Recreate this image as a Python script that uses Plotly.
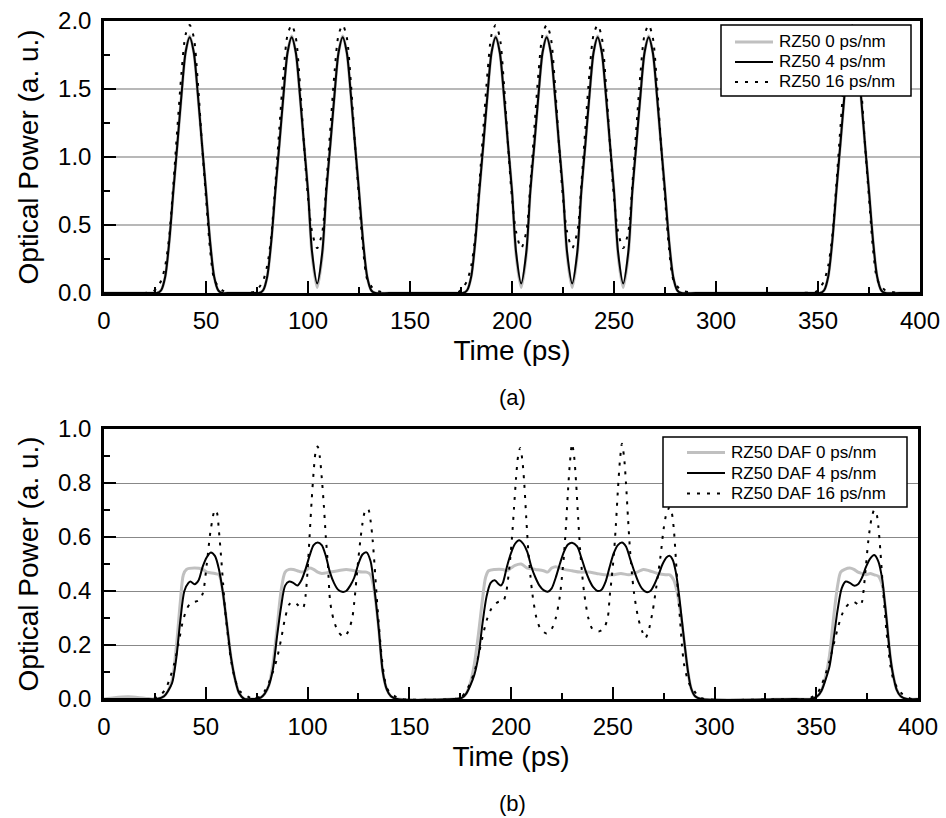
import plotly.graph_objects as go

# ---------------- Panel (a) data : RZ50 ----------------
t_a = [0, 10, 20, 24,
       26, 28, 30, 32, 34, 36, 38, 40, 42, 44, 46, 48, 50, 52, 54, 56, 58,
       62, 70, 74,
       76, 78, 80, 82, 84, 86, 88, 90, 92, 94, 96, 98, 100, 102, 104.5,
       107, 109, 111, 113, 115, 117, 119, 121, 123, 125, 127, 129, 131, 133,
       140, 150, 160, 170, 174,
       176, 178, 180, 182, 184, 186, 188, 190, 192, 194, 196, 198, 200, 202, 204.5,
       207, 209, 211, 213, 215, 217, 219, 221, 223, 225, 227, 229.5,
       232, 234, 236, 238, 240, 242, 244, 246, 248, 250, 252, 254.5,
       257, 259, 261, 263, 265, 267, 269, 271, 273, 275, 277, 279, 281, 283,
       290, 300, 320, 340, 349,
       351, 353, 355, 357, 359, 361, 363, 365, 367, 369, 371, 373, 375, 377, 379, 381, 383,
       390, 400]

rz_0 = [0, 0, 0, 0,
        0.0, 0.02, 0.12, 0.38, 0.75, 1.1, 1.46, 1.77, 1.89, 1.77, 1.46, 1.1, 0.75, 0.38, 0.12, 0.02, 0.0,
        0, 0, 0,
        0.0, 0.02, 0.12, 0.38, 0.75, 1.1, 1.46, 1.77, 1.89, 1.77, 1.46, 1.1, 0.75, 0.28, 0.04,
        0.28, 0.75, 1.1, 1.46, 1.77, 1.89, 1.77, 1.46, 1.1, 0.75, 0.38, 0.12, 0.02, 0.0,
        0, 0, 0, 0, 0,
        0.0, 0.02, 0.12, 0.38, 0.75, 1.1, 1.46, 1.77, 1.89, 1.77, 1.46, 1.1, 0.75, 0.28, 0.04,
        0.28, 0.75, 1.1, 1.46, 1.77, 1.89, 1.77, 1.46, 1.1, 0.75, 0.28, 0.04,
        0.28, 0.75, 1.1, 1.46, 1.77, 1.89, 1.77, 1.46, 1.1, 0.75, 0.28, 0.04,
        0.28, 0.75, 1.1, 1.46, 1.77, 1.89, 1.77, 1.46, 1.1, 0.75, 0.38, 0.12, 0.02, 0.0,
        0, 0, 0, 0, 0,
        0.0, 0.02, 0.12, 0.38, 0.75, 1.1, 1.46, 1.77, 1.89, 1.77, 1.46, 1.1, 0.75, 0.38, 0.12, 0.02, 0.0,
        0, 0]

rz_4 = [0, 0, 0, 0,
        0.0, 0.02, 0.12, 0.38, 0.75, 1.1, 1.46, 1.77, 1.88, 1.77, 1.46, 1.1, 0.75, 0.38, 0.12, 0.02, 0.0,
        0, 0, 0,
        0.0, 0.02, 0.12, 0.38, 0.75, 1.1, 1.46, 1.77, 1.88, 1.77, 1.46, 1.1, 0.75, 0.3, 0.07,
        0.3, 0.75, 1.1, 1.46, 1.77, 1.88, 1.77, 1.46, 1.1, 0.75, 0.38, 0.12, 0.02, 0.0,
        0, 0, 0, 0, 0,
        0.0, 0.02, 0.12, 0.38, 0.75, 1.1, 1.46, 1.77, 1.88, 1.77, 1.46, 1.1, 0.75, 0.3, 0.07,
        0.3, 0.75, 1.1, 1.46, 1.77, 1.88, 1.77, 1.46, 1.1, 0.75, 0.3, 0.07,
        0.3, 0.75, 1.1, 1.46, 1.77, 1.88, 1.77, 1.46, 1.1, 0.75, 0.3, 0.07,
        0.3, 0.75, 1.1, 1.46, 1.77, 1.88, 1.77, 1.46, 1.1, 0.75, 0.38, 0.12, 0.02, 0.0,
        0, 0, 0, 0, 0,
        0.0, 0.02, 0.12, 0.38, 0.75, 1.1, 1.46, 1.77, 1.88, 1.77, 1.46, 1.1, 0.75, 0.38, 0.12, 0.02, 0.0,
        0, 0]

rz_16 = [0, 0, 0, 0.01,
         0.04, 0.09, 0.2, 0.42, 0.8, 1.22, 1.62, 1.9, 1.97, 1.88, 1.55, 1.1, 0.7, 0.32, 0.1, 0.05, 0.02,
         0, 0, 0.01,
         0.04, 0.09, 0.2, 0.42, 0.8, 1.22, 1.62, 1.9, 1.97, 1.88, 1.55, 1.1, 0.7, 0.45, 0.33,
         0.45, 0.8, 1.22, 1.62, 1.9, 1.97, 1.88, 1.55, 1.1, 0.7, 0.32, 0.1, 0.05, 0.02,
         0, 0, 0, 0, 0.01,
         0.04, 0.09, 0.2, 0.42, 0.8, 1.22, 1.62, 1.9, 1.97, 1.88, 1.55, 1.1, 0.7, 0.45, 0.33,
         0.45, 0.8, 1.22, 1.62, 1.9, 1.97, 1.88, 1.55, 1.1, 0.7, 0.45, 0.33,
         0.45, 0.8, 1.22, 1.62, 1.9, 1.97, 1.88, 1.55, 1.1, 0.7, 0.45, 0.33,
         0.45, 0.8, 1.22, 1.62, 1.9, 1.97, 1.88, 1.55, 1.1, 0.7, 0.32, 0.1, 0.05, 0.02,
         0, 0, 0, 0, 0.01,
         0.04, 0.09, 0.2, 0.42, 0.8, 1.22, 1.62, 1.9, 1.97, 1.88, 1.55, 1.1, 0.7, 0.32, 0.1, 0.05, 0.02,
         0, 0]

# ---------------- Panel (b) data : RZ50 DAF ----------------
t_daf0 = [0, 5, 12, 20, 26, 29.5, 31.5, 33.5, 35.5, 37.5, 39, 40.5, 44.5, 48.5, 50.5, 54.5, 56.5,
          58.5, 60.5, 62.5, 64.5, 66.5, 69,
          73, 77, 79, 81, 83, 85, 87, 89, 91, 93, 95, 97, 99, 101, 103, 105, 107, 111, 115, 119,
          123, 127, 129, 131, 133, 135, 137, 139, 141, 144,
          172, 176, 178, 180, 182, 184, 186, 187.5, 189, 192, 196, 198, 200, 202, 205, 208, 212,
          216, 218, 220, 222, 226, 230, 234, 238, 242, 246, 250, 254, 258, 262, 265, 268, 272,
          276, 278, 280, 281.5, 282.5, 284, 285.5, 287, 288.5, 290.5, 293.5,
          340, 347.5, 350.5, 352.5, 354.5, 356.5, 358.5, 360.5, 362, 364, 366.5, 368.5, 370.5,
          372.5, 374.5, 376.5, 378.5, 380.5, 382.5, 383.5, 384.5, 385.5, 386.5, 387.5, 389.5,
          391.5, 394.5, 400]
daf_0 = [0, 0.005, 0.008, 0.003, 0, 0.01, 0.03, 0.07, 0.19, 0.36, 0.46, 0.48, 0.485, 0.48, 0.47,
         0.465, 0.46, 0.39, 0.27, 0.15, 0.07, 0.02, 0,
         0, 0.005, 0.02, 0.05, 0.13, 0.26, 0.4, 0.47, 0.48, 0.48, 0.475, 0.47, 0.475, 0.485, 0.48,
         0.47, 0.465, 0.47, 0.475, 0.48, 0.475, 0.47, 0.47, 0.46, 0.39, 0.26, 0.1, 0.035, 0.01, 0,
         0, 0.005, 0.02, 0.06, 0.13, 0.24, 0.37, 0.45, 0.475, 0.48, 0.48, 0.475, 0.485, 0.495,
         0.5, 0.485, 0.48, 0.475, 0.47, 0.485, 0.49, 0.48, 0.475, 0.47, 0.47, 0.465, 0.46, 0.46,
         0.465, 0.46, 0.47, 0.48, 0.475, 0.465, 0.46, 0.46, 0.44, 0.4, 0.36, 0.28, 0.19, 0.1,
         0.04, 0.01, 0,
         0, 0, 0.01, 0.03, 0.08, 0.16, 0.3, 0.42, 0.47, 0.48, 0.485, 0.48, 0.47, 0.465, 0.46,
         0.465, 0.46, 0.455, 0.42, 0.37, 0.3, 0.22, 0.15, 0.1, 0.035, 0.01, 0, 0]

t_daf4 = [0, 10, 20, 26, 29.5, 31.5, 33.5, 35.5, 37.5, 39.5, 41.5, 42.5, 44.5, 46.5, 48.5, 50.5,
          52.5, 54.5, 56.5, 58.5, 60.5, 62.5, 64.5, 66.5, 69,
          73, 77, 79, 81, 83, 85, 87, 89, 91, 93, 95, 97, 99, 101, 103, 105, 107, 109, 111, 113,
          115, 117, 119, 121, 123, 125, 127, 129, 131, 133, 135, 137, 139, 141, 144,
          172, 176, 178, 180, 182, 184, 186, 188, 190, 192, 194, 195, 196, 198, 200, 202, 204,
          206, 208, 210, 212, 214, 216, 218, 220, 222, 224, 226, 228, 230, 232.5, 234.5, 236.5,
          238.5, 240.5, 242.5, 244.5, 246.5, 248.5, 250.5, 252.5, 254.5, 256.5, 258.5, 260.5,
          262.5, 264.5, 266.5, 268.5, 270.5, 272.5, 274.5, 276.5, 278, 279.5, 281, 282.5, 284,
          285.5, 287, 288.5, 290.5, 293.5,
          340, 347.5, 350.5, 352.5, 354.5, 356.5, 358.5, 360.5, 362.5, 364.5, 366.5, 368.5,
          370.5, 372.5, 374.5, 376.5, 378.5, 380.5, 382.5, 383.5, 384.5, 385.5, 386.5, 387.5,
          389.5, 391.5, 394.5, 400]
daf_4 = [0, 0, 0, 0, 0.01, 0.03, 0.06, 0.15, 0.29, 0.4, 0.43, 0.435, 0.425, 0.44, 0.49, 0.525,
         0.543, 0.53, 0.48, 0.39, 0.27, 0.15, 0.07, 0.02, 0,
         0, 0.005, 0.02, 0.05, 0.11, 0.23, 0.34, 0.42, 0.435, 0.43, 0.42, 0.44, 0.48, 0.53, 0.57,
         0.58, 0.57, 0.53, 0.47, 0.43, 0.405, 0.397, 0.4, 0.42, 0.45, 0.5, 0.535, 0.543, 0.51,
         0.4, 0.26, 0.1, 0.035, 0.01, 0,
         0, 0.005, 0.02, 0.05, 0.09, 0.16, 0.28, 0.38, 0.43, 0.44, 0.425, 0.42, 0.43, 0.49, 0.54,
         0.575, 0.588, 0.575, 0.545, 0.49, 0.45, 0.42, 0.403, 0.397, 0.41, 0.45, 0.5, 0.545,
         0.572, 0.579, 0.565, 0.525, 0.478, 0.44, 0.413, 0.4, 0.405, 0.435, 0.49, 0.54, 0.57,
         0.58, 0.565, 0.52, 0.475, 0.435, 0.408, 0.396, 0.4, 0.425, 0.46, 0.5, 0.525, 0.53,
         0.515, 0.47, 0.39, 0.29, 0.19, 0.1, 0.04, 0.01, 0,
         0, 0, 0.01, 0.03, 0.07, 0.12, 0.22, 0.33, 0.41, 0.435, 0.43, 0.42, 0.425, 0.45, 0.49,
         0.52, 0.533, 0.51, 0.44, 0.37, 0.3, 0.22, 0.15, 0.1, 0.035, 0.01, 0, 0]

t_daf16 = [0, 24, 26.5, 28.5, 30.5, 32.5, 34.5, 36.5, 38.5, 40.5, 42.5, 44.5, 46.5, 48.5, 50.5,
           52.5, 54.5, 55.5, 56.5, 57.5, 58.5, 59.5, 60.5, 62.5, 64.5, 66.5, 68.5, 70.5, 73,
           75, 77, 79, 81, 83, 85, 87, 89, 91, 93, 95, 97, 98, 99, 100, 101, 102, 103, 104, 105,
           106, 107, 108, 109, 110, 111, 112, 113, 115, 118, 120, 122, 123, 124, 125, 126, 127,
           128, 129, 130, 131, 132, 133, 134, 135, 136, 137, 138, 139, 141, 143, 146,
           172, 175, 176, 178, 180, 182, 184, 186, 188, 190, 192, 194, 196, 197.5, 198.5, 199.5,
           200.5, 201.5, 202.5, 203.5, 204.5, 205.5, 206.5, 207.5, 208.5, 209.5, 210.5, 212.5,
           214.5, 217.5, 220, 222, 224, 225, 226, 227, 228, 229, 230, 231, 232, 233, 234, 235,
           236, 238, 240, 243, 245.5, 247.5, 248.5, 249.5, 250.5, 251.5, 252.5, 253.5, 254.5,
           255.5, 256.5, 257.5, 258.5, 259.5, 260.5, 262.5, 264.5, 266, 267.5, 269.5, 271.5,
           273.5, 275, 276.5, 278, 279, 280, 281, 282, 283, 284, 285, 286.5, 288, 290, 292, 295,
           340, 346, 348.5, 350.5, 352.5, 354.5, 356.5, 358.5, 360.5, 362.5, 364.5, 366.5, 368.5,
           370.5, 371.5, 372.5, 373.5, 374.5, 375.5, 376.5, 377.5, 378.5, 379.5, 380.5, 381.5,
           382.5, 383.5, 384.5, 385.5, 386.5, 388, 390, 392, 394, 397, 400]
daf_16 = [0, 0, 0.01, 0.02, 0.04, 0.08, 0.13, 0.2, 0.28, 0.33, 0.355, 0.36, 0.365, 0.39, 0.5,
          0.63, 0.7, 0.69, 0.62, 0.53, 0.43, 0.33, 0.26, 0.14, 0.07, 0.03, 0.02, 0.01, 0,
          0.005, 0.01, 0.03, 0.06, 0.1, 0.15, 0.22, 0.3, 0.35, 0.36, 0.35, 0.335, 0.34, 0.38,
          0.47, 0.6, 0.73, 0.84, 0.915, 0.935, 0.9, 0.82, 0.72, 0.6, 0.5, 0.37, 0.32, 0.29,
          0.25, 0.23, 0.25, 0.3, 0.36, 0.44, 0.52, 0.59, 0.65, 0.69, 0.705, 0.7, 0.66, 0.59,
          0.49, 0.38, 0.28, 0.19, 0.12, 0.07, 0.04, 0.02, 0.01, 0,
          0, 0.005, 0.01, 0.03, 0.06, 0.1, 0.16, 0.23, 0.29, 0.33, 0.35, 0.36, 0.36, 0.39, 0.44,
          0.51, 0.6, 0.71, 0.82, 0.9, 0.93, 0.89, 0.8, 0.67, 0.55, 0.46, 0.39, 0.3, 0.26, 0.243,
          0.26, 0.3, 0.38, 0.45, 0.53, 0.64, 0.77, 0.88, 0.945, 0.9, 0.8, 0.67, 0.55, 0.46, 0.39,
          0.3, 0.26, 0.25, 0.26, 0.3, 0.38, 0.45, 0.53, 0.64, 0.77, 0.88, 0.945, 0.9, 0.8, 0.67,
          0.55, 0.46, 0.39, 0.3, 0.25, 0.225, 0.25, 0.32, 0.42, 0.53, 0.63, 0.69, 0.71, 0.69,
          0.63, 0.52, 0.4, 0.3, 0.2, 0.13, 0.08, 0.05, 0.03, 0.01, 0,
          0, 0, 0.01, 0.02, 0.05, 0.09, 0.14, 0.2, 0.26, 0.31, 0.34, 0.355, 0.36, 0.35, 0.345,
          0.36, 0.42, 0.5, 0.58, 0.64, 0.68, 0.7, 0.69, 0.64, 0.55, 0.44, 0.34, 0.25, 0.18, 0.12,
          0.07, 0.04, 0.02, 0.01, 0, 0]

names_a = ["RZ50 0 ps/nm", "RZ50 4 ps/nm", "RZ50 16 ps/nm"]
names_b = ["RZ50 DAF 0 ps/nm", "RZ50 DAF 4 ps/nm", "RZ50 DAF 16 ps/nm"]

FONT = "Liberation Sans, Arial, sans-serif"
GRAY = "#c0c0c0"
DOT = "3px,7px"

fig = go.Figure()
styles = [dict(color=GRAY, width=3), dict(color="black", width=2),
          dict(color="black", width=2, dash=DOT)]

for name, y, st in zip(names_a, [rz_0, rz_4, rz_16], styles):
    fig.add_trace(go.Scatter(x=t_a, y=y, name=name, mode="lines", showlegend=False,
                             line=dict(shape="spline", smoothing=0.8, **st),
                             xaxis="x", yaxis="y"))
for name, x, y, st in zip(names_b, [t_daf0, t_daf4, t_daf16], [daf_0, daf_4, daf_16], styles):
    fig.add_trace(go.Scatter(x=x, y=y, name=name, mode="lines", showlegend=False,
                             line=dict(shape="spline", smoothing=0.8, **st),
                             xaxis="x2", yaxis="y2"))

W, H = 946, 818
def px(x):
    return x / W
def py(y):
    return 1 - y / H

# ---- legend boxes drawn as shapes + text (exact row spacing of the original) ----
shapes = []
annotations = []
def add_legend(box, sample_x, text_x, rows, names):
    x0, y0, x1, y1 = box
    shapes.append(dict(type="rect", xref="paper", yref="paper", layer="above",
                       x0=px(x0), x1=px(x1), y0=py(y1), y1=py(y0),
                       line=dict(color="black", width=1.5), fillcolor="white"))
    for name, yr, st in zip(names, rows, styles):
        shapes.append(dict(type="line", xref="paper", yref="paper", layer="above",
                           x0=px(sample_x[0]), x1=px(sample_x[1]), y0=py(yr), y1=py(yr),
                           line=st))
        annotations.append(dict(text=name, x=px(text_x), y=py(yr), xref="paper",
                                yref="paper", xanchor="left", yanchor="middle",
                                showarrow=False,
                                font=dict(family=FONT, size=17, color="black")))

add_legend((721, 25, 911, 96), (735, 773), 777, [42, 62, 82], names_a)
add_legend((663, 437, 907, 507), (687, 725), 729, [452.5, 473, 493.5], names_b)

annotations += [
    dict(text="(a)", x=px(512), y=py(397), xref="paper", yref="paper",
         xanchor="center", yanchor="middle",
         showarrow=False, font=dict(family=FONT, size=22, color="black")),
    dict(text="(b)", x=px(512), y=py(803), xref="paper", yref="paper",
         xanchor="center", yanchor="middle",
         showarrow=False, font=dict(family=FONT, size=22, color="black")),
]

common_x = dict(range=[0, 400], dtick=50, tick0=0, ticks="inside", ticklen=12, tickwidth=2,
                tickcolor="black", showline=True, linewidth=2.5, linecolor="black",
                mirror=True, showgrid=False, zeroline=False, automargin=False,
                ticklabelstandoff=4,
                tickfont=dict(family=FONT, size=24, color="black"),
                minor=dict(dtick=25, ticks="inside", ticklen=6, tickwidth=2, tickcolor="black"),
                title=dict(text="Time (ps)", font=dict(family=FONT, size=28, color="black"),
                           standoff=8))
common_y = dict(ticks="inside", ticklen=12, tickwidth=2, tickcolor="black", showline=True,
                linewidth=2.5, linecolor="black", mirror=True, zeroline=False,
                automargin=False, ticklabelstandoff=5,
                tickformat=".1f", tickfont=dict(family=FONT, size=24, color="black"),
                title=dict(text="Optical Power (a. u.)",
                           font=dict(family=FONT, size=28, color="black"), standoff=12))

fig.update_layout(
    width=W, height=H, margin=dict(l=0, r=0, t=0, b=0, autoexpand=False),
    paper_bgcolor="white", plot_bgcolor="white", showlegend=False,
    xaxis=dict(domain=[px(104), px(920)], anchor="y", **common_x),
    yaxis=dict(domain=[py(293), py(21)], anchor="x", range=[0, 2], dtick=0.5,
               showgrid=True, gridcolor="#b8b8b8", gridwidth=1.5,
               minor=dict(dtick=0.25, ticks="inside", ticklen=6, tickwidth=2,
                          tickcolor="black", showgrid=False), **common_y),
    xaxis2=dict(domain=[px(104), px(918)], anchor="y2", **common_x),
    yaxis2=dict(domain=[py(699), py(429)], anchor="x2", range=[0, 1], dtick=0.2,
                showgrid=True, gridcolor="#888888", gridwidth=1,
                minor=dict(dtick=0.1, ticks="inside", ticklen=6, tickwidth=2,
                           tickcolor="black", showgrid=False), **common_y),
    shapes=shapes,
    annotations=annotations,
)

fig.write_html("out.html")
